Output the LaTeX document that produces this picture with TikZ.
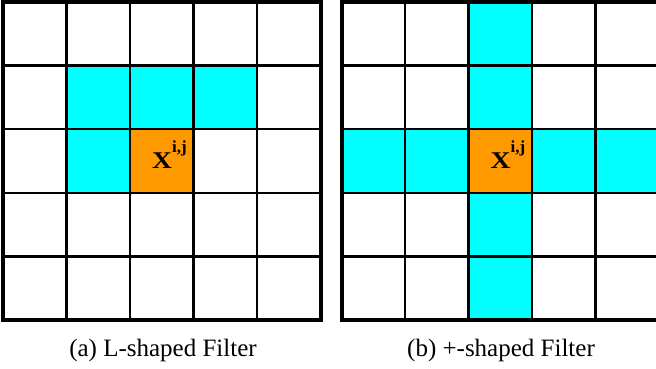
\documentclass[tikz,border=0pt]{standalone}
\usepackage{graphicx}
\usepackage{fontspec}
\setmainfont{Liberation Serif}
\definecolor{cellcyan}{HTML}{00FFFF}
\definecolor{cellorange}{HTML}{FF9900}
\newcommand{\cellmark}{{\fontsize{24}{26}\selectfont\bfseries\scalebox{1.15}[1]{X}}\raisebox{16pt}{\fontsize{17}{18}\selectfont\bfseries i,j}}
\begin{document}
\begin{tikzpicture}[x=1pt,y=-1pt,
  inner/.style={line width=2.5pt},
  outer/.style={line width=4pt},
  hl/.style={fill=cellcyan},
  ctr/.style={fill=cellorange},
  lbl/.style={inner sep=0pt, anchor=base},
  captxt/.style={font=\fontsize{25}{29}\selectfont, inner sep=0pt, anchor=base}]
\useasboundingbox (0,0) rectangle (656,368);
% ---------- left grid: L-shaped ----------
\def\px{63.5}\def\py{63.6}
\begin{scope}[shift={(3,2)}]
  \foreach \c/\r in {1/1,2/1,3/1,1/2}
    \fill[hl] (\c*\px,\r*\py) rectangle ({(\c+1)*\px},{(\r+1)*\py});
  \fill[ctr] (2*\px,2*\py) rectangle (3*\px,3*\py);
  \foreach \i in {1,...,4} {
    \draw[inner] (\i*\px,0) -- (\i*\px,5*\py);
    \draw[inner] (0,\i*\py) -- (5*\px,\i*\py);
  }
  \draw[outer] (0,0) rectangle (5*\px,5*\py);
\end{scope}
\node[lbl] (xl) at (169.5,168) {\cellmark};
\node[captxt] (capa) at (163,356) {(a) L-shaped Filter};
% ---------- right grid: +-shaped ----------
\begin{scope}[shift={(341.5,2)}]
  \foreach \c/\r in {2/0,2/1,2/3,2/4,0/2,1/2,3/2,4/2}
    \fill[hl] (\c*\px,\r*\py) rectangle ({(\c+1)*\px},{(\r+1)*\py});
  \fill[ctr] (2*\px,2*\py) rectangle (3*\px,3*\py);
  \foreach \i in {1,...,4} {
    \draw[inner] (\i*\px,0) -- (\i*\px,5*\py);
    \draw[inner] (0,\i*\py) -- (5*\px,\i*\py);
  }
  \draw[outer] (0,0) rectangle (5*\px,5*\py);
\end{scope}
\node[lbl] (xr) at (508,168) {\cellmark};
\node[captxt] (capb) at (501,356) {(b) +-shaped Filter};
\end{tikzpicture}
\end{document}
